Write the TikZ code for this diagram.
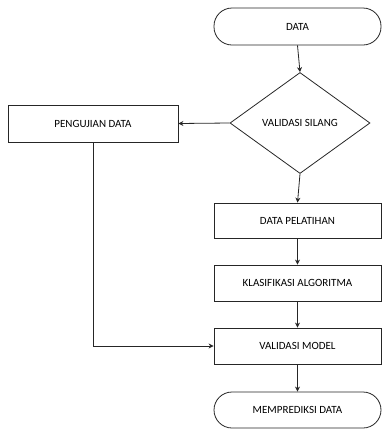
\documentclass[tikz,border=0pt]{standalone}
\usepackage{fontspec}
\setmainfont{Carlito}
\usetikzlibrary{shapes.geometric,arrows.meta}
\begin{document}
\begin{tikzpicture}[x=1pt,y=-1pt,
  base/.style={draw=black!85, line width=0.8pt, font=\fontsize{11}{13}\selectfont, inner sep=0pt},
  procbox/.style={base, rectangle, minimum width=167pt, minimum height=36pt},
  termbox/.style={base, rectangle, rounded corners=18pt, minimum width=167pt, minimum height=37pt},
  decbox/.style={base, diamond, aspect=1.39, minimum width=140pt, minimum height=101pt},
  conn/.style={draw=black!85, line width=0.8pt, -{Stealth[length=5pt,width=5pt]}}]
\useasboundingbox (0,0) rectangle (382,429);
\node[termbox] (data) at (297.5,26.5) {DATA};
\node[decbox] (vs) at (300,123) {VALIDASI SILANG};
\node[procbox, minimum width=170pt, minimum height=37pt] (pd) at (93,123.5) {PENGUJIAN DATA};
\node[procbox, minimum height=35pt] (dp) at (297.5,220.5) {DATA PELATIHAN};
\node[procbox] (ka) at (297.5,283) {KLASIFIKASI ALGORITMA};
\node[procbox] (vm) at (297.5,346) {VALIDASI MODEL};
\node[termbox, minimum height=36pt] (mp) at (297.5,410) {MEMPREDIKSI DATA};
\draw[conn] (data.south) -- (vs.north);
\draw[conn] (vs.west) -- (pd.east);
\draw[conn] (vs.south) -- (dp.north);
\draw[conn] (dp) -- (ka);
\draw[conn] (ka) -- (vm);
\draw[conn] (vm) -- (mp);
\draw[conn] (pd.south) -- (pd.south |- vm.west) -- (vm.west);
\end{tikzpicture}
\end{document}
